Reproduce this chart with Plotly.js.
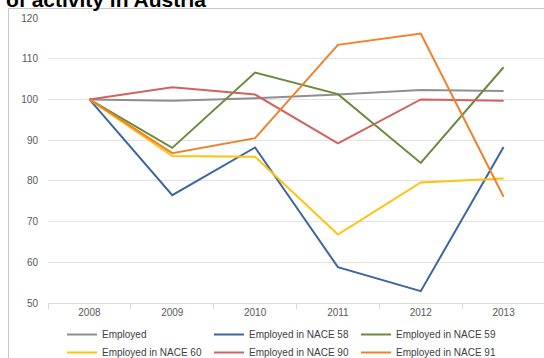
<!DOCTYPE html>
<html>
<head>
<meta charset="utf-8">
<script src="https://cdn.plot.ly/plotly-3.0.1.min.js"></script>
<style>
  html, body { margin: 0; padding: 0; overflow: hidden; background: #ffffff; }
  #chart { width: 548px; height: 358px; }
</style>
</head>
<body>
<div id="chart"></div>
<script>
// ---- data ----
const years = ['2008', '2009', '2010', '2011', '2012', '2013'];
const seriesNames = ['Employed', 'Employed in NACE 58', 'Employed in NACE 59',
                     'Employed in NACE 60', 'Employed in NACE 90', 'Employed in NACE 91'];
const employed = [100, 99.7, 100.3, 101.2, 102.3, 102.1];
const nace58   = [100, 76.5, 88.2, 58.8, 52.9, 88.3];
const nace59   = [100, 88.1, 106.6, 101.3, 84.4, 107.9];
const nace60   = [100, 86.1, 85.9, 66.8, 79.6, 80.6];
const nace90   = [100, 103.0, 101.2, 89.2, 100.0, 99.7];
const nace91   = [100, 86.8, 90.5, 113.4, 116.2, 76.1];
const seriesValues = [employed, nace58, nace59, nace60, nace90, nace91];
const seriesColors = ['#8f8f8f', '#3d65a0', '#6a8a3c', '#ffc20e', '#d0625f', '#f0812a'];

const FONT = 'Liberation Sans, Arial, sans-serif';

// first three series in legend row 1, last three in legend row 2
const traces = seriesNames.map((name, i) => ({
  type: 'scatter',
  mode: 'lines',
  x: years,
  y: seriesValues[i],
  name: name,
  legend: i < 3 ? 'legend' : 'legend2',
  line: { color: seriesColors[i], width: 2 },
  hoverinfo: 'skip'
}));

// pixel helpers for the outer chart frame
const W = 548, H = 358, ML = 48, MR = 3, MT = 18, MB = 55;
const pw = W - ML - MR, ph = H - MT - MB;
const px = v => (v - ML) / pw;
const py = v => (H - MB - v) / ph;

function legendRow(topPx) {
  return {
    orientation: 'h',
    xref: 'container', yref: 'container',
    x: 62 / W, xanchor: 'left',
    y: 1 - topPx / H, yanchor: 'top',
    font: { family: FONT, size: 10, color: '#404040' },
    entrywidth: 102,
    entrywidthmode: 'pixels',
    itemwidth: 30,
    traceorder: 'normal',
    bgcolor: 'rgba(0,0,0,0)'
  };
}

const layout = {
  width: W,
  height: H,
  paper_bgcolor: '#ffffff',
  plot_bgcolor: '#ffffff',
  margin: { l: ML, r: MR, t: MT, b: MB, pad: 0, autoexpand: false },
  title: {
    text: '<b>of activity in Austria</b>',
    font: { family: FONT, size: 21, color: '#000000' },
    x: 6 / W, xref: 'container', xanchor: 'left',
    y: 1, yref: 'container', yanchor: 'middle'
  },
  showlegend: true,
  legend: legendRow(320),
  legend2: legendRow(338),
  xaxis: {
    type: 'category',
    categoryorder: 'array',
    categoryarray: years,
    range: [-0.5, 5.5],
    showgrid: false,
    zeroline: false,
    showline: true,
    linecolor: '#d9d9d9',
    linewidth: 1,
    ticks: 'outside',
    tickson: 'boundaries',
    ticklen: 5,
    tickcolor: '#d9d9d9',
    tickfont: { family: FONT, size: 10, color: '#595959' },
    fixedrange: true
  },
  yaxis: {
    range: [50, 120],
    dtick: 10,
    tick0: 50,
    showgrid: true,
    gridcolor: '#e3e3e3',
    gridwidth: 1,
    zeroline: false,
    showline: false,
    ticks: '',
    ticklabelstandoff: 9,
    tickfont: { family: FONT, size: 10, color: '#595959' },
    fixedrange: true
  },
  shapes: [{
    type: 'rect', xref: 'paper', yref: 'paper',
    x0: px(8.5), x1: px(600), y0: py(400), y1: py(8.5),
    line: { color: '#c8c8c8', width: 1 },
    fillcolor: 'rgba(0,0,0,0)',
    layer: 'below'
  }]
};

Plotly.newPlot('chart', traces, layout, { displayModeBar: false, staticPlot: true });
</script>
</body>
</html>
